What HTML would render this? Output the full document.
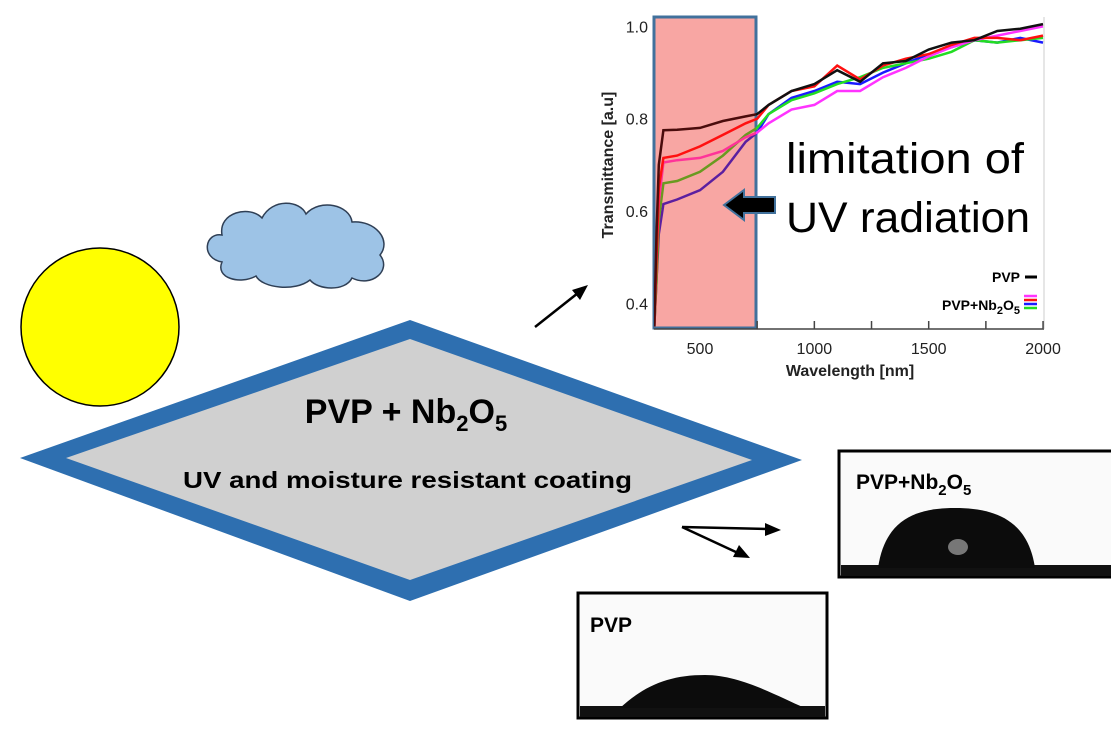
<!DOCTYPE html>
<html><head><meta charset="utf-8"><style>
body{margin:0;width:1111px;height:729px;background:#fff;overflow:hidden;font-family:"Liberation Sans",sans-serif}
svg{position:absolute;left:0;top:0}
</style></head><body>
<svg width="1111" height="729">
<defs>
<clipPath id="uv"><rect x="654" y="17" width="102" height="312"/></clipPath>
<clipPath id="vis"><rect x="756" y="0" width="400" height="340"/></clipPath>
</defs>
<circle cx="100" cy="327" r="79" fill="#ffff00" stroke="#000" stroke-width="1.5"/>
<path d="M222,262 C200,258 205,232 222,235 C218,212 250,205 262,218 C272,198 300,200 306,214 C320,198 350,205 352,222 C375,220 392,240 380,255 C392,270 372,288 352,278 C345,292 318,290 310,280 C295,292 262,288 256,276 C240,285 215,278 222,262 Z" fill="#9dc3e6" stroke="#2f3f55" stroke-width="1.5"/>
<polygon points="20,458 410,320 802,460 410,601" fill="#2e6fb0"/>
<polygon points="66,458 410,339 752,460 410,580" fill="#d0d0d0"/>
<text x="406" y="423" text-anchor="middle" font-weight="bold" font-size="34">PVP + Nb<tspan font-size="22" dy="8">2</tspan><tspan dy="-8">O</tspan><tspan font-size="22" dy="8">5</tspan></text>
<text x="183" y="488" font-weight="bold" font-size="23" textLength="449" lengthAdjust="spacingAndGlyphs">UV and moisture resistant coating</text>
<g stroke="#000" stroke-width="2.5" fill="#000">
<line x1="535" y1="327" x2="578" y2="293"/><polygon points="588,285 572,290 580,300" stroke="none"/>
<line x1="682" y1="527" x2="768" y2="529"/><polygon points="781,530 765,523 765,536" stroke="none"/>
<line x1="682" y1="527" x2="738" y2="553"/><polygon points="750,558 739,545 733,557" stroke="none"/>
</g>
<g id="chart"></g>
<text x="786" y="173" font-size="43" textLength="238" lengthAdjust="spacingAndGlyphs">limitation of</text>
<text x="786" y="232" font-size="43" textLength="244" lengthAdjust="spacingAndGlyphs">UV radiation</text>
<polygon points="724,205 744,190 744,197 775,197 775,213 744,213 744,220" fill="#000" stroke="#41719c" stroke-width="2"/>
<g>
<rect x="839" y="451" width="280" height="126" fill="#fafafa" stroke="#000" stroke-width="3"/>
<rect x="841" y="565" width="280" height="11" fill="#111"/>
<path d="M878,568 C885,520 915,508 955,508 C995,508 1028,520 1035,568 Z" fill="#0c0c0c"/>
<ellipse cx="958" cy="547" rx="10" ry="8" fill="#777"/>
<text x="856" y="489" font-weight="bold" font-size="21">PVP+Nb<tspan font-size="15" dy="6">2</tspan><tspan dy="-6">O</tspan><tspan font-size="15" dy="6">5</tspan></text>
</g>
<g>
<rect x="578" y="593" width="249" height="125" fill="#fafafa" stroke="#000" stroke-width="3"/>
<rect x="580" y="706" width="245" height="11" fill="#111"/>
<path d="M620,708 C645,685 670,675 705,675 C740,675 775,695 805,708 Z" fill="#0c0c0c"/>
<text x="590" y="632" font-weight="bold" font-size="21">PVP</text>
</g>
</svg>
<script>
const wavelengths=[300,310,320,340,400,500,600,700,750,800,900,1000,1100,1200,1300,1400,1500,1600,1700,1800,1900,2000];
const pvp=[0.35,0.55,0.7,0.775,0.776,0.78,0.795,0.805,0.81,0.83,0.86,0.875,0.905,0.88,0.92,0.925,0.95,0.965,0.97,0.99,0.995,1.005];
const nbRed=[0.35,0.5,0.65,0.715,0.72,0.74,0.765,0.79,0.8,0.83,0.86,0.87,0.915,0.885,0.915,0.93,0.94,0.96,0.975,0.975,0.97,0.98];
const nbMagenta=[0.35,0.5,0.62,0.705,0.71,0.715,0.73,0.76,0.77,0.79,0.82,0.83,0.86,0.86,0.89,0.91,0.935,0.955,0.97,0.98,0.99,1.0];
const nbGreen=[0.35,0.45,0.58,0.66,0.665,0.685,0.72,0.765,0.78,0.81,0.84,0.855,0.875,0.89,0.91,0.92,0.93,0.945,0.97,0.965,0.97,0.975];
const nbBlue=[0.35,0.45,0.55,0.615,0.625,0.645,0.685,0.75,0.77,0.81,0.845,0.86,0.88,0.875,0.9,0.92,0.94,0.955,0.97,0.965,0.975,0.965];
const xTicks=[500,1000,1500,2000];
const yTicks=[0.4,0.6,0.8,1.0];
const NS="http://www.w3.org/2000/svg";
const X=w=>700+(w-500)*0.2287;
const Y=v=>303.3-(v-0.4)*461.5;
const g=document.getElementById('chart');
function mk(t,a,p){const e=document.createElementNS(NS,t);for(const k in a)e.setAttribute(k,a[k]);(p||g).appendChild(e);return e;}
const box=mk('rect',{x:654,y:17,width:102,height:311,fill:'#f8a6a3',stroke:'#41719c','stroke-width':3});


const ax=mk('line',{x1:654,y1:329,x2:1044,y2:329,stroke:'#444','stroke-width':1.5});


mk('line',{x1:1044,y1:17,x2:1044,y2:329,stroke:'#ccc','stroke-width':1});
for(let w=750;w<=2000;w+=250){const t=mk('line',{x1:X(w),y1:329,x2:X(w),y2:321,stroke:'#444','stroke-width':1.5});}
xTicks.forEach(w=>{const t=mk('text',{x:X(w),y:354,'text-anchor':'middle','font-size':16,fill:'#222'});t.textContent=w;});
yTicks.forEach(v=>{const t=mk('text',{x:648,y:Y(v)+6,'text-anchor':'end','font-size':16,fill:'#222'});t.textContent=v.toFixed(1);});
const xt=mk('text',{x:850,y:376,'text-anchor':'middle','font-size':16,'font-weight':'bold',fill:'#222'});xt.textContent='Wavelength [nm]';


const yt=mk('text',{x:0,y:0,'text-anchor':'middle','font-size':16,'font-weight':'bold',fill:'#222',transform:'translate(613,165) rotate(-90)'});yt.textContent='Transmittance [a.u]';


const series=[[nbBlue,'#1a1aff','#5b1fa0','blue'],[nbGreen,'#22dd22','#6a9a20','green'],[nbMagenta,'#ff33ff','#ff3399','magenta'],[nbRed,'#ff1010','#ff1010','red'],[pvp,'#111','#4a0c0c','pvp']];
series.forEach(s=>{
  const d=s[0].map((v,i)=>(i?'L':'M')+X(wavelengths[i]).toFixed(1)+','+Y(v).toFixed(1)).join(' ');
  const a=mk('path',{d:d,fill:'none',stroke:s[1],'stroke-width':2.5,'clip-path':'url(#vis)'});
  
  
  const b=mk('path',{d:d,fill:'none',stroke:s[2],'stroke-width':2.5,'clip-path':'url(#uv)'});
  
  
});
const l1=mk('text',{x:1020,y:282,'text-anchor':'end','font-size':14,'font-weight':'bold'});l1.textContent='PVP';


mk('line',{x1:1025,y1:277,x2:1037,y2:277,stroke:'#000','stroke-width':3});
const l2=mk('text',{x:1020,y:310,'text-anchor':'end','font-size':14,'font-weight':'bold'});l2.innerHTML='PVP+Nb<tspan font-size="11" dy="4">2</tspan><tspan dy="-4">O</tspan><tspan font-size="11" dy="4">5</tspan>';


['#ff33ff','#ff1010','#1a1aff','#22dd22'].forEach((c,i)=>mk('line',{x1:1024,y1:296+i*4,x2:1037,y2:296+i*4,stroke:c,'stroke-width':2.5}));
</script>
</body></html>
